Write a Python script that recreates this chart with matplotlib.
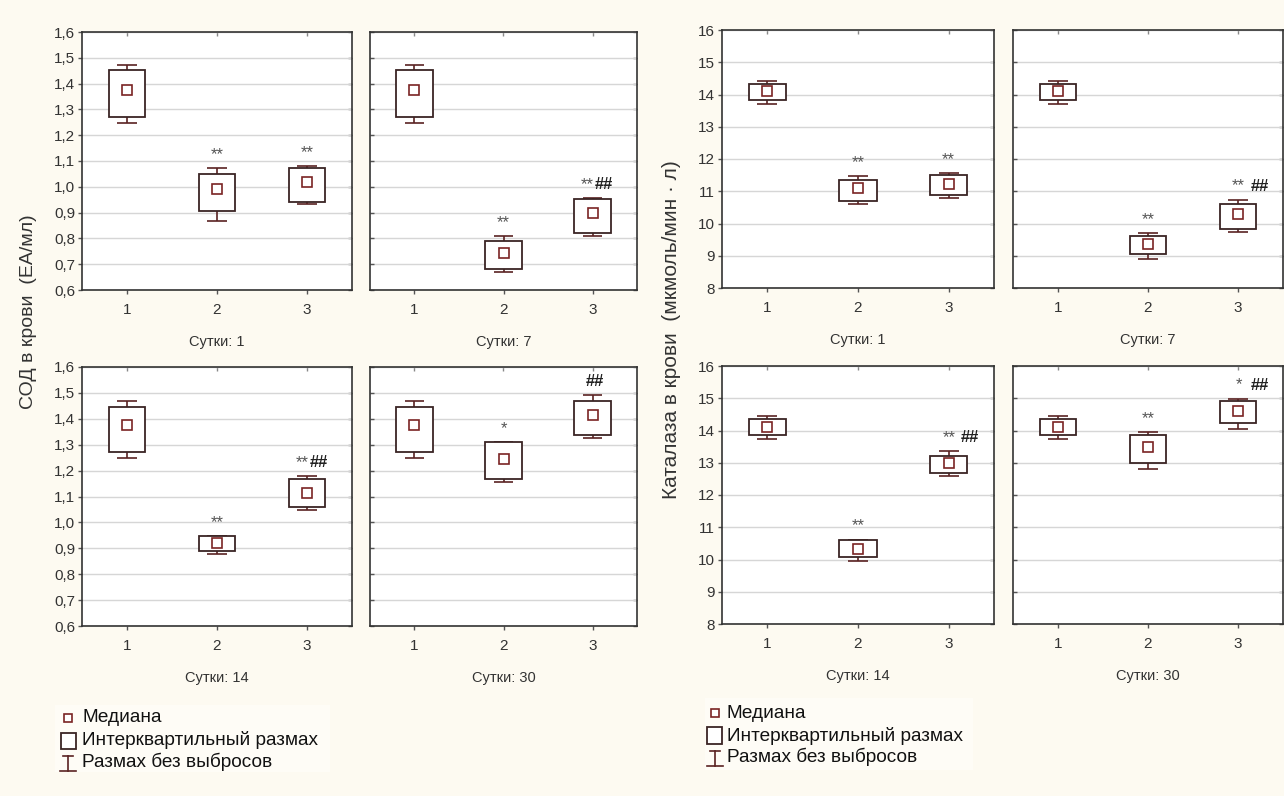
import matplotlib
matplotlib.use("Agg")
import matplotlib.pyplot as plt
from matplotlib.patches import Rectangle
from matplotlib.lines import Line2D
import numpy as np

plt.rcParams['font.family'] = ['Liberation Sans', 'DejaVu Sans']

W, H = 1284, 796
DPI = 100

groups = [1, 2, 3]
day_labels = ["Сутки: 1", "Сутки: 7", "Сутки: 14", "Сутки: 30"]

# СОД (ЕА/мл): for each day, values of groups 1..3
sod_wlo = [[1.248, 0.868, 0.932], [1.248, 0.669, 0.810], [1.247, 0.879, 1.048], [1.247, 1.157, 1.324]]
sod_q1 = [[1.271, 0.907, 0.942], [1.271, 0.680, 0.820], [1.271, 0.889, 1.059], [1.271, 1.167, 1.338]]
sod_med = [[1.376, 0.991, 1.019], [1.376, 0.745, 0.899], [1.375, 0.919, 1.114], [1.375, 1.243, 1.415]]
sod_q3 = [[1.454, 1.050, 1.072], [1.454, 0.788, 0.952], [1.446, 0.946, 1.167], [1.446, 1.309, 1.470]]
sod_whi = [[1.471, 1.072, 1.079], [1.471, 0.810, 0.956], [1.470, 0.947, 1.180], [1.470, 1.310, 1.493]]
sod_marks = [["", "**", "**"], ["", "**", "**##"], ["", "**", "**##"], ["", "*", "##"]]
sod_ticks = [0.6, 0.7, 0.8, 0.9, 1.0, 1.1, 1.2, 1.3, 1.4, 1.5, 1.6]

# Каталаза (мкмоль/мин·л)
cat_wlo = [[13.70, 10.62, 10.79], [13.70, 8.89, 9.75], [13.74, 9.96, 12.59], [13.74, 12.82, 14.04]]
cat_q1 = [[13.83, 10.70, 10.89], [13.83, 9.04, 9.83], [13.85, 10.09, 12.68], [13.85, 13.00, 14.22]]
cat_med = [[14.10, 11.09, 11.24], [14.10, 9.36, 10.28], [14.11, 10.34, 13.00], [14.11, 13.48, 14.62]]
cat_q3 = [[14.34, 11.34, 11.49], [14.34, 9.60, 10.62], [14.35, 10.59, 13.22], [14.35, 13.85, 14.91]]
cat_whi = [[14.43, 11.48, 11.56], [14.43, 9.71, 10.74], [14.44, 10.62, 13.37], [14.44, 13.95, 14.99]]
cat_marks = [["", "**", "**"], ["", "**", "** ##"], ["", "**", "** ##"], ["", "**", "* ##"]]
cat_ticks = [8, 9, 10, 11, 12, 13, 14, 15, 16]

BG = '#fdfaf1'
BOX_C = '#3a2424'
WHISK_C = '#5a2222'
MED_C = '#7a2424'
TXT_C = '#333333'

fig = plt.figure(figsize=(W / DPI, H / DPI), dpi=DPI, facecolor=BG)


def px_axes(x0, x1, y0, y1):
    return fig.add_axes([x0 / W, 1 - y1 / H, (x1 - x0) / W, (y1 - y0) / H])


def draw_marks(ax, x, y, label):
    if not label:
        return
    stars = label.split('#')[0].strip()
    hashes = '#' * label.count('#')
    base = 6.5
    star_kw = dict(textcoords='offset points', va='baseline', fontsize=12, color='#555555')
    hash_kw = dict(textcoords='offset points', va='baseline', fontsize=12, color='#222222',
                   fontweight='bold')
    if stars and hashes:
        if ' ' in label:
            ax.annotate(stars, (x, y), xytext=(0.5, base), ha='center', **star_kw)
            ax.annotate(hashes, (x, y), xytext=(9.0, base), ha='left', **hash_kw)
        else:
            ax.annotate(stars, (x, y), xytext=(1.2, base), ha='right', **star_kw)
            ax.annotate(hashes, (x, y), xytext=(1.8, base), ha='left', **hash_kw)
    elif stars:
        ax.annotate(stars, (x, y), xytext=(0, base), ha='center', **star_kw)
    else:
        ax.annotate(hashes, (x, y), xytext=(2, base), ha='center', **hash_kw)


def draw_panel(ax, wlo, q1, med, q3, whi, marks, ticks, fmt, labeled, day):
    wlo, q1, med, q3, whi = map(np.asarray, (wlo, q1, med, q3, whi))
    x = np.asarray(groups, dtype=float)
    ax.set_facecolor('white')
    ax.set_xlim(0.5, 3.5)
    ax.set_ylim(ticks[0], ticks[-1])
    ax.set_yticks(ticks)
    ax.set_xticks(groups)
    ax.yaxis.grid(True, color='#d6d6d6', linewidth=1.0)
    ax.set_axisbelow(True)

    ax.vlines(x, q3, whi, color=WHISK_C, linewidth=1.2, zorder=2)
    ax.vlines(x, wlo, q1, color=WHISK_C, linewidth=1.2, zorder=2)
    ax.hlines(whi, x - 0.11, x + 0.11, color=WHISK_C, linewidth=1.2, zorder=2)
    ax.hlines(wlo, x - 0.11, x + 0.11, color=WHISK_C, linewidth=1.2, zorder=2)
    ax.bar(x, q3 - q1, bottom=q1, width=0.41, color='white', edgecolor=BOX_C,
           linewidth=1.3, zorder=3)
    ax.plot(x, med, ls='none', marker='s', ms=6.5, mfc='white', mec=MED_C, mew=1.2, zorder=4)

    for xi, yi, lab in zip(x, whi, marks):
        draw_marks(ax, xi, yi, lab)

    for s in ax.spines.values():
        s.set_color('#333333')
        s.set_linewidth(1.2)

    ax.tick_params(axis='x', direction='out', length=3, width=1, color='#555555',
                   labelsize=11, labelcolor=TXT_C, pad=6)
    if labeled:
        ax.set_yticklabels([fmt(v) for v in ticks])
        ax.tick_params(axis='y', direction='out', length=3, width=1, color='#555555',
                       labelsize=11, labelcolor=TXT_C, pad=2)
    else:
        ax.set_yticklabels([])
        ax.tick_params(axis='y', direction='in', length=3, width=1, color='#555555')

    sy = ax.secondary_yaxis('right')
    sy.set_yticks(ticks)
    sy.set_yticklabels([])
    sy.tick_params(direction='in', length=3, width=1, color='#555555')
    sy.spines['right'].set_visible(False)
    sx = ax.secondary_xaxis('top')
    sx.set_xticks(groups)
    sx.set_xticklabels([])
    sx.tick_params(direction='in', length=3, width=1, color='#888888')
    sx.spines['top'].set_visible(False)

    ax.text(0.5, -52 / 258, day, transform=ax.transAxes, ha='center', va='center',
            fontsize=10.5, color=TXT_C)


def sod_fmt(v):
    return f"{v:.1f}".replace('.', ',')


def cat_fmt(v):
    return f"{v:.0f}"


sod_cols = [(82, 352), (370, 637)]
sod_rows = [(32, 290), (367, 626)]
cat_cols = [(722, 994), (1013, 1283)]
cat_rows = [(30, 288), (366, 624)]

for i in range(4):
    r, c = divmod(i, 2)
    ax = px_axes(sod_cols[c][0], sod_cols[c][1], sod_rows[r][0], sod_rows[r][1])
    draw_panel(ax, sod_wlo[i], sod_q1[i], sod_med[i], sod_q3[i], sod_whi[i], sod_marks[i],
               sod_ticks, sod_fmt, c == 0, day_labels[i])
    ax = px_axes(cat_cols[c][0], cat_cols[c][1], cat_rows[r][0], cat_rows[r][1])
    draw_panel(ax, cat_wlo[i], cat_q1[i], cat_med[i], cat_q3[i], cat_whi[i], cat_marks[i],
               cat_ticks, cat_fmt, c == 0, day_labels[i])

fig.text(29 / W, 1 - 312 / H, "СОД в крови  (ЕА/мл)", rotation=90, ha='center', va='center',
         fontsize=14, color=TXT_C)
fig.text(672 / W, 1 - 330 / H, "Каталаза в крови  (мкмоль/мин · л)", rotation=90,
         ha='center', va='center', fontsize=15, color=TXT_C)

# Legends drawn on a transparent overlay in pixel units
ov = fig.add_axes([0, 0, 1, 1], facecolor='none')
ov.set_xlim(0, W)
ov.set_ylim(H, 0)
ov.axis('off')

legend_items = ["Медиана", "Интерквартильный размах", "Размах без выбросов"]


def draw_legend(x_mark, x_text, ys, box, bg):
    ov.add_patch(Rectangle((bg[0], bg[1]), bg[2], bg[3], facecolor='#fefcf6', edgecolor='none'))
    ov.plot([x_mark], [ys[0]], ls='none', marker='s', ms=6, mfc='white', mec=MED_C, mew=1.2)
    bx0, by0, bw, bh = box
    ov.add_patch(Rectangle((bx0, by0), bw, bh, facecolor='white', edgecolor=BOX_C, lw=1.3))
    top = ys[2] - 6
    bot = ys[2] + 9
    ov.add_line(Line2D([x_mark, x_mark], [top, bot], color=WHISK_C, lw=1.2))
    ov.add_line(Line2D([x_mark - 5, x_mark + 5], [top, top], color=WHISK_C, lw=1.2))
    ov.add_line(Line2D([x_mark - 8, x_mark + 8], [bot, bot], color=WHISK_C, lw=1.2))
    for y, t in zip(ys, legend_items):
        ov.text(x_text, y, t, ha='left', va='center', fontsize=13.7, color='#111111')


draw_legend(68, 82, [718, 740, 762], (61, 733, 15, 16), (55, 705, 275, 67))
draw_legend(715, 727, [713, 736, 757], (707, 727, 15, 17), (705, 698, 268, 72))

fig.savefig("out.png", dpi=DPI, facecolor=BG)
